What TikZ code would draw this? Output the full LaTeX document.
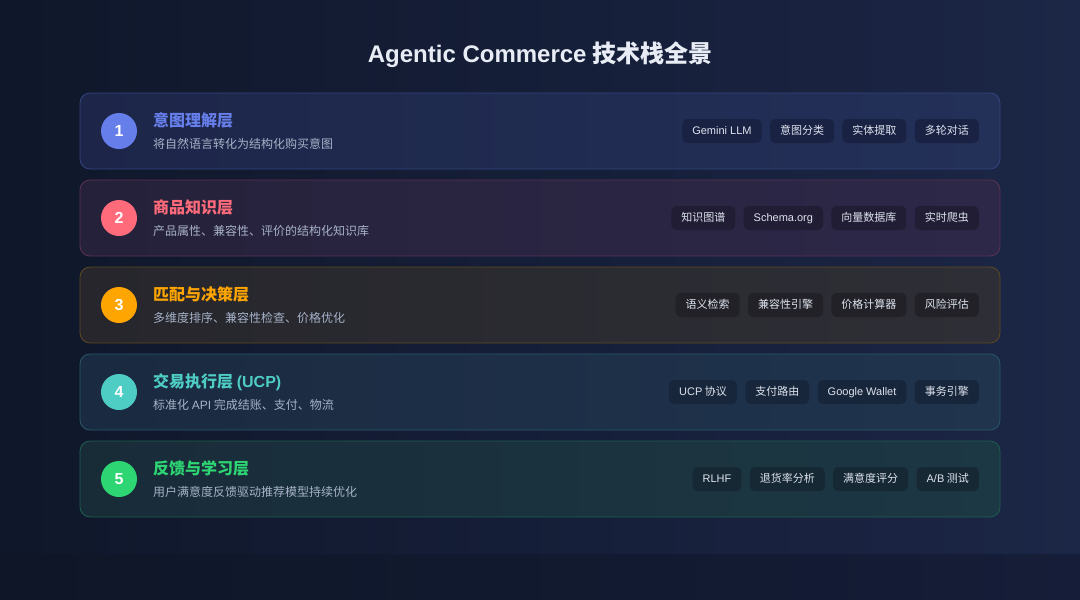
\documentclass[tikz,border=0pt]{standalone}
\usepackage{fontspec}
\setmainfont{Noto Sans CJK SC}
\newfontfamily\lat{Liberation Sans}
\usetikzlibrary{positioning}
\definecolor{bgL}{HTML}{0F172A}
\definecolor{bgR}{HTML}{1C2646}
\definecolor{bbL}{HTML}{0E1627}
\definecolor{bbR}{HTML}{151D38}
\definecolor{titlec}{HTML}{E8ECF4}
\definecolor{subc}{HTML}{A6B2C8}
\definecolor{tagtext}{HTML}{DDE3EE}
% layer 1
\definecolor{c1}{HTML}{667EEA}
\definecolor{f1L}{HTML}{1D2649}
\definecolor{f1R}{HTML}{233058}
\definecolor{b1}{HTML}{34447E}
\definecolor{t1}{HTML}{1A2244}
% layer 2
\definecolor{c2}{HTML}{FF6B7A}
\definecolor{f2L}{HTML}{26213A}
\definecolor{f2R}{HTML}{2D2848}
\definecolor{b2}{HTML}{5A3252}
\definecolor{t2}{HTML}{211D34}
% layer 3
\definecolor{c3}{HTML}{FFA502}
\definecolor{f3L}{HTML}{26262C}
\definecolor{f3R}{HTML}{2E2E36}
\definecolor{b3}{HTML}{5E4A22}
\definecolor{t3}{HTML}{212127}
% layer 4
\definecolor{c4}{HTML}{4ECDC4}
\definecolor{f4L}{HTML}{1A2A40}
\definecolor{f4R}{HTML}{20344E}
\definecolor{b4}{HTML}{285868}
\definecolor{t4}{HTML}{17263A}
% layer 5
\definecolor{c5}{HTML}{2ED573}
\definecolor{f5L}{HTML}{182C38}
\definecolor{f5R}{HTML}{1C3844}
\definecolor{b5}{HTML}{1F5E4E}
\definecolor{t5}{HTML}{152833}
\begin{document}
\begin{tikzpicture}[x=1pt,y=-1pt,
  card/.style={rounded corners=10pt, line width=0.8pt, minimum width=920pt, minimum height=76pt, inner sep=0pt},
  num/.style={circle, minimum size=36pt, inner sep=0pt, text=white, font=\fontsize{16}{18}\selectfont\lat\bfseries},
  ltitle/.style={anchor=base west, inner sep=0pt, font=\fontsize{16}{18}\selectfont\bfseries},
  lsub/.style={anchor=base west, inner sep=0pt, text=subc, font=\fontsize{12}{14}\selectfont},
  tag/.style={rounded corners=5pt, minimum height=24pt, inner xsep=10pt, inner ysep=0pt, text height=8.5pt, text depth=1.5pt, text=tagtext, font=\fontsize{11}{13}\selectfont},
  lastag/.style={tag, anchor=east},
]
\useasboundingbox (0,0) rectangle (1080,600);
\fill[left color=bgL, right color=bgR] (0,0) rectangle (1080,554);
\fill[left color=bbL, right color=bbR] (0,554) rectangle (1080,600);

\node[font=\fontsize{24}{28}\selectfont\bfseries, text=titlec, anchor=base] (title) at (540,62) {{\lat Agentic Commerce} 技术栈全景};

% ---- Layer 1
\node[card, draw=b1, left color=f1L, right color=f1R] (card1) at (540,131) {};
\node[num, fill=c1] (n1) at (119,131) {1};
\node[ltitle, text=c1] (h1) at (153,126) {意图理解层};
\node[lsub] (s1) at (153,148.5) {将自然语言转化为结构化购买意图};
\node[lastag, fill=t1] (g1d) at (979,131) {多轮对话};
\node[tag, fill=t1, left=8pt of g1d] (g1c) {实体提取};
\node[tag, fill=t1, left=8pt of g1c] (g1b) {意图分类};
\node[tag, fill=t1, left=8pt of g1b] (g1a) {\lat Gemini LLM};

% ---- Layer 2
\node[card, draw=b2, left color=f2L, right color=f2R] (card2) at (540,218) {};
\node[num, fill=c2] (n2) at (119,218) {2};
\node[ltitle, text=c2] (h2) at (153,213) {商品知识层};
\node[lsub] (s2) at (153,235.5) {产品属性、兼容性、评价的结构化知识库};
\node[lastag, fill=t2] (g2d) at (979,218) {实时爬虫};
\node[tag, fill=t2, left=8pt of g2d] (g2c) {向量数据库};
\node[tag, fill=t2, left=8pt of g2c] (g2b) {\lat Schema.org};
\node[tag, fill=t2, left=8pt of g2b] (g2a) {知识图谱};

% ---- Layer 3
\node[card, draw=b3, left color=f3L, right color=f3R] (card3) at (540,305) {};
\node[num, fill=c3] (n3) at (119,305) {3};
\node[ltitle, text=c3] (h3) at (153,300) {匹配与决策层};
\node[lsub] (s3) at (153,322.5) {多维度排序、兼容性检查、价格优化};
\node[lastag, fill=t3] (g3d) at (979,305) {风险评估};
\node[tag, fill=t3, left=8pt of g3d] (g3c) {价格计算器};
\node[tag, fill=t3, left=8pt of g3c] (g3b) {兼容性引擎};
\node[tag, fill=t3, left=8pt of g3b] (g3a) {语义检索};

% ---- Layer 4
\node[card, draw=b4, left color=f4L, right color=f4R] (card4) at (540,392) {};
\node[num, fill=c4] (n4) at (119,392) {4};
\node[ltitle, text=c4] (h4) at (153,387) {交易执行层 {\lat (UCP)}};
\node[lsub] (s4) at (153,409.5) {标准化 {\lat API} 完成结账、支付、物流};
\node[lastag, fill=t4] (g4d) at (979,392) {事务引擎};
\node[tag, fill=t4, left=8pt of g4d] (g4c) {\lat Google Wallet};
\node[tag, fill=t4, left=8pt of g4c] (g4b) {支付路由};
\node[tag, fill=t4, left=8pt of g4b] (g4a) {{\lat UCP} 协议};

% ---- Layer 5
\node[card, draw=b5, left color=f5L, right color=f5R] (card5) at (540,479) {};
\node[num, fill=c5] (n5) at (119,479) {5};
\node[ltitle, text=c5] (h5) at (153,474) {反馈与学习层};
\node[lsub] (s5) at (153,496.5) {用户满意度反馈驱动推荐模型持续优化};
\node[lastag, fill=t5] (g5d) at (979,479) {{\lat A/B} 测试};
\node[tag, fill=t5, left=8pt of g5d] (g5c) {满意度评分};
\node[tag, fill=t5, left=8pt of g5c] (g5b) {退货率分析};
\node[tag, fill=t5, left=8pt of g5b] (g5a) {\lat RLHF};
\end{tikzpicture}
\end{document}
